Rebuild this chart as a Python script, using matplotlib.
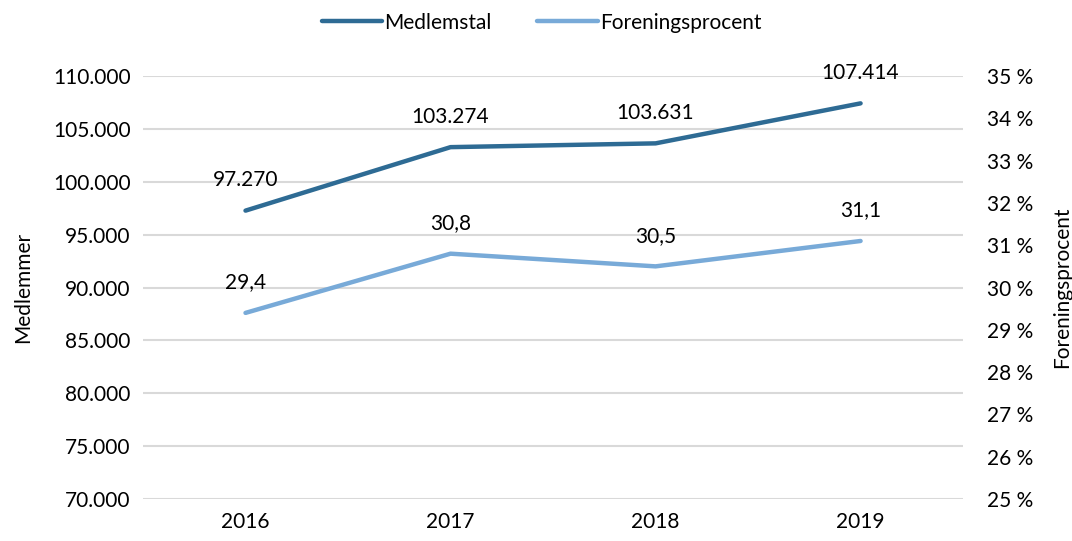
import matplotlib.pyplot as plt
from matplotlib.ticker import FuncFormatter

years = ["2016", "2017", "2018", "2019"]
medlemstal = [97270, 103274, 103631, 107414]
procent = [29.4, 30.8, 30.5, 31.1]

dark = "#2e6b94"
light = "#78aad8"
fn = "Lato"
fs = 15
plt.rcParams["font.family"] = [fn, "DejaVu Sans"]

fig = plt.figure(figsize=(10.72, 5.41), dpi=100)
ax = fig.add_axes([0.1334, 0.0776, 0.765, 0.7819])
ax2 = ax.twinx()

x = list(range(len(years)))

# venstre akse
ax.set_ylim(70000, 110000)
ax.set_yticks(range(70000, 110001, 5000))
ax.yaxis.set_major_formatter(FuncFormatter(lambda v, p: f"{int(v):,}".replace(",", ".")))
ax.grid(axis="y", color="#d9d9d9", lw=1.5)
ax.set_axisbelow(True)
ax.set_xlim(-0.5, 3.5)
ax.set_xticks(x)
ax.set_xticklabels(years)
ax.tick_params(length=0, labelsize=fs, pad=9)
ax.set_ylabel("Medlemmer", fontsize=fs, labelpad=14)

# højre akse
ax2.set_ylim(25, 35)
ax2.set_yticks(range(25, 36))
ax2.yaxis.set_major_formatter(FuncFormatter(lambda v, p: f"{int(v)} %"))
ax2.tick_params(length=0, labelsize=fs, pad=17)
ax2.set_ylabel("Foreningsprocent", fontsize=fs, rotation=90, labelpad=14)

for a in (ax, ax2):
    for s in a.spines.values():
        s.set_visible(False)

l1, = ax.plot(x, medlemstal, color=dark, lw=3.2, solid_capstyle="round", label="Medlemstal")
l2, = ax2.plot(x, procent, color=light, lw=3.2, solid_capstyle="round", label="Foreningsprocent")

for xi, v in zip(x, medlemstal):
    ax.annotate(f"{v:,}".replace(",", "."), (xi, v), xytext=(0, 22), textcoords="offset points",
                ha="center", va="center", fontsize=fs)
for xi, v in zip(x, procent):
    ax2.annotate(f"{v:.1f}".replace(".", ","), (xi, v), xytext=(0, 22), textcoords="offset points",
                 ha="center", va="center", fontsize=fs)

fig.legend(handles=[l1, l2], loc="center", bbox_to_anchor=(0.505, 0.958), ncol=2, frameon=False,
           fontsize=fs, handlelength=2.9, columnspacing=2.2, handletextpad=0.1)

fig.savefig("out.png", dpi=100)
